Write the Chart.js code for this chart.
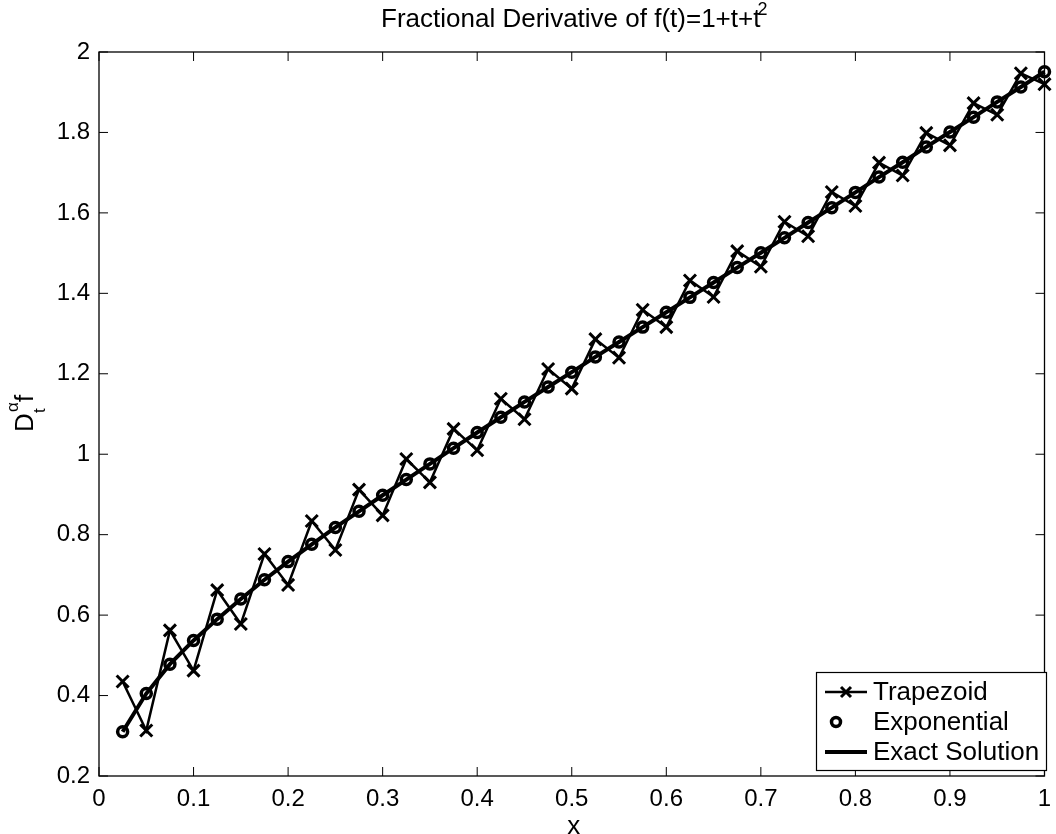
<!DOCTYPE html>
<html>
<head>
<meta charset="utf-8">
<script src="https://cdn.jsdelivr.net/npm/chart.js@4"></script>
<style>
  html, body { margin: 0; padding: 0; background: #fff; }
  #wrap { width: 1056px; height: 834px; }
</style>
</head>
<body>
<div id="wrap"><canvas id="myChart" width="1056" height="834"></canvas></div>
<script>
// values
const xs = [0.025, 0.05, 0.075, 0.1, 0.125, 0.15, 0.175, 0.2, 0.225, 0.25,
            0.275, 0.3, 0.325, 0.35, 0.375, 0.4, 0.425, 0.45, 0.475, 0.5,
            0.525, 0.55, 0.575, 0.6, 0.625, 0.65, 0.675, 0.7, 0.725, 0.75,
            0.775, 0.8, 0.825, 0.85, 0.875, 0.9, 0.925, 0.95, 0.975, 1.0];

const trapezoid = [0.435, 0.313, 0.562, 0.462, 0.662, 0.578, 0.752, 0.675, 0.834, 0.762,
                   0.912, 0.848, 0.988, 0.930, 1.063, 1.010, 1.138, 1.087, 1.212, 1.163,
                   1.286, 1.240, 1.359, 1.316, 1.432, 1.391, 1.505, 1.466, 1.578, 1.542,
                   1.652, 1.617, 1.725, 1.693, 1.799, 1.768, 1.873, 1.844, 1.947, 1.920];

const exponential = [0.310, 0.405, 0.478, 0.537, 0.590, 0.640, 0.688, 0.733, 0.776, 0.818,
                     0.858, 0.898, 0.937, 0.976, 1.015, 1.054, 1.092, 1.130, 1.167, 1.204,
                     1.242, 1.279, 1.316, 1.353, 1.390, 1.427, 1.464, 1.501, 1.538, 1.576,
                     1.613, 1.651, 1.689, 1.726, 1.764, 1.801, 1.838, 1.876, 1.913, 1.951];

const exact = exponential.slice();

const xTicks = [0, 0.1, 0.2, 0.3, 0.4, 0.5, 0.6, 0.7, 0.8, 0.9, 1];
const xTickLabels = ['0', '0.1', '0.2', '0.3', '0.4', '0.5', '0.6', '0.7', '0.8', '0.9', '1'];
const yTicks = [0.2, 0.4, 0.6, 0.8, 1, 1.2, 1.4, 1.6, 1.8, 2];
const yTickLabels = ['0.2', '0.4', '0.6', '0.8', '1', '1.2', '1.4', '1.6', '1.8', '2'];

const FONT = '"Liberation Sans", Arial, sans-serif';

function pts(ys){
  return xs.map(function(x, i){ return {x: x, y: ys[i]}; });
}

// axes box, inner ticks, labels, title, legend
const matlabAxes = {
  id: 'matlabAxes',
  afterDraw: function(chart){
    const ctx = chart.ctx;
    const a = chart.chartArea;
    const sx = chart.scales.x;
    const sy = chart.scales.y;
    ctx.save();
    ctx.strokeStyle = '#000';
    ctx.fillStyle = '#000';
    ctx.lineWidth = 1.3;
    ctx.strokeRect(a.left, a.top, a.right - a.left, a.bottom - a.top);

    const tl = 9;
    ctx.lineWidth = 1;
    ctx.font = '24px ' + FONT;
    ctx.textAlign = 'center';
    ctx.textBaseline = 'top';
    xTicks.forEach(function(v, i){
      const px = sx.getPixelForValue(v);
      ctx.beginPath();
      ctx.moveTo(px, a.bottom); ctx.lineTo(px, a.bottom - tl);
      ctx.moveTo(px, a.top); ctx.lineTo(px, a.top + tl);
      ctx.stroke();
      ctx.fillText(xTickLabels[i], px, a.bottom + 11);
    });
    ctx.textAlign = 'right';
    ctx.textBaseline = 'middle';
    yTicks.forEach(function(v, i){
      const py = sy.getPixelForValue(v);
      ctx.beginPath();
      ctx.moveTo(a.left, py); ctx.lineTo(a.left + tl, py);
      ctx.moveTo(a.right, py); ctx.lineTo(a.right - tl, py);
      ctx.stroke();
      ctx.fillText(yTickLabels[i], a.left - 9, py);
    });

    // title with superscript
    const cx = (a.left + a.right) / 2;
    const tMain = 'Fractional Derivative of f(t)=1+t+t';
    ctx.font = '26px ' + FONT;
    const w1 = ctx.measureText(tMain).width;
    ctx.font = '18px ' + FONT;
    const w2 = ctx.measureText('2').width;
    const x0 = cx - (w1 + w2) / 2 + 4;
    ctx.textAlign = 'left';
    ctx.textBaseline = 'alphabetic';
    ctx.font = '26px ' + FONT;
    ctx.fillText(tMain, x0, 27);
    ctx.font = '18px ' + FONT;
    ctx.fillText('2', x0 + w1 - 3, 15);

    // x label
    ctx.font = '26px ' + FONT;
    ctx.textAlign = 'center';
    ctx.fillText('x', cx + 2, 834);

    // y label D_t^alpha f
    ctx.save();
    ctx.translate(33, (a.top + a.bottom) / 2);
    ctx.rotate(-Math.PI / 2);
    ctx.textAlign = 'left';
    ctx.font = '26px ' + FONT;
    ctx.fillText('D', -18, 0);
    ctx.font = '17px ' + FONT;
    ctx.fillText('\u03b1', 2, -15);
    ctx.fillText('t', 1, 12);
    ctx.font = '26px ' + FONT;
    ctx.fillText('f', 12, 0);
    ctx.restore();

    // legend
    const L = {x: 816, y: 672, w: 230, h: 98};
    ctx.fillStyle = '#fff';
    ctx.fillRect(L.x, L.y, L.w, L.h);
    ctx.strokeStyle = '#000';
    ctx.lineWidth = 1.2;
    ctx.strokeRect(L.x + 0.5, L.y + 0.5, L.w, L.h);
    const rows = [692, 722, 752];
    const ds = chart.data.datasets;
    ctx.fillStyle = '#000';
    ctx.font = '26px ' + FONT;
    ctx.textAlign = 'left';
    ctx.textBaseline = 'middle';
    // trapezoid
    ctx.lineWidth = 2.5;
    ctx.beginPath(); ctx.moveTo(825, rows[0]); ctx.lineTo(867, rows[0]); ctx.stroke();
    ctx.lineWidth = 3;
    ctx.beginPath();
    ctx.moveTo(841, rows[0] - 5); ctx.lineTo(851, rows[0] + 5);
    ctx.moveTo(841, rows[0] + 5); ctx.lineTo(851, rows[0] - 5);
    ctx.stroke();
    // exponential
    ctx.lineWidth = 3.5;
    ctx.beginPath(); ctx.arc(836, rows[1], 4.5, 0, Math.PI * 2); ctx.stroke();
    // exact
    ctx.lineWidth = 4;
    ctx.beginPath(); ctx.moveTo(825, rows[2]); ctx.lineTo(867, rows[2]); ctx.stroke();
    ds.forEach(function(d, i){ ctx.fillText(d.label, 873, rows[i] + 1); });
    ctx.restore();
  }
};

const data = {
  datasets: [{
    label: 'Trapezoid',
    data: pts(trapezoid),
    borderColor: '#000',
    backgroundColor: '#000',
    borderWidth: 2.5,
    pointStyle: 'crossRot',
    pointRadius: 8.5,
    pointBorderWidth: 3,
    showLine: true,
    clip: false
  }, {
    label: 'Exponential',
    data: pts(exponential),
    borderColor: '#000',
    backgroundColor: 'rgba(0,0,0,0)',
    pointStyle: 'circle',
    pointRadius: 5,
    pointBorderWidth: 3.5,
    showLine: false,
    clip: false
  }, {
    label: 'Exact Solution',
    data: pts(exact),
    borderColor: '#000',
    borderWidth: 4,
    pointRadius: 0,
    showLine: true,
    clip: false
  }]
};

const config = {
  type: 'scatter',
  data: data,
  options: {
    responsive: false,
    animation: false,
    layout: { padding: { left: 99, right: 4, top: 52, bottom: 58 } },
    plugins: { legend: { display: false }, tooltip: { enabled: false } },
    scales: {
      x: { type: 'linear', min: 0, max: 1, display: false },
      y: { type: 'linear', min: 0.2, max: 2, display: false }
    }
  },
  plugins: [matlabAxes]
};

const myChart = new Chart(document.getElementById('myChart'), config);
</script>
</body>
</html>
